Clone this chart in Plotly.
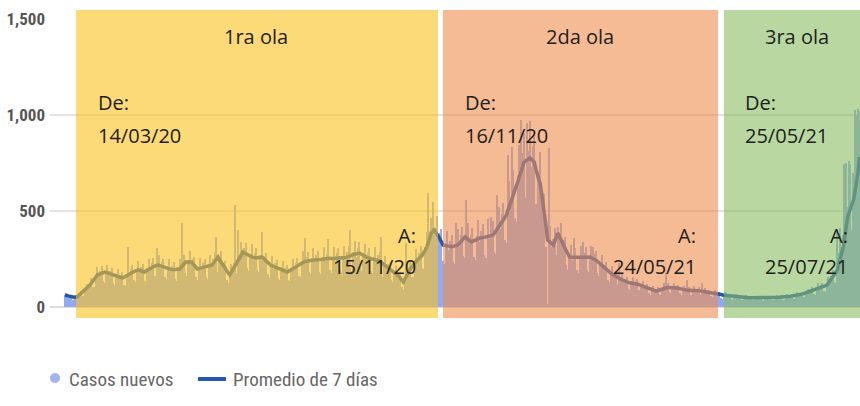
import pandas as pd
import plotly.graph_objects as go

start_date = "2020-03-06"

# Casos nuevos (diarios)
cases = [
    65, 75, 55, 61, 64, 39, 36, 55, 65, 55,
    72, 85, 59, 59, 96, 121, 99, 127, 150, 102,
    102, 165, 209, 162, 190, 211, 134, 127, 189, 221,
    166, 189, 204, 125, 115, 170, 199, 148, 169, 181,
    116, 112, 172, 312, 164, 196, 218, 139, 132, 200,
    241, 181, 207, 222, 137, 131, 202, 248, 193, 229,
    253, 160, 151, 307, 271, 204, 233, 252, 156, 144,
    212, 249, 186, 212, 233, 146, 137, 207, 248, 197,
    437, 270, 176, 164, 246, 293, 222, 248, 259, 155,
    139, 210, 253, 194, 227, 250, 158, 148, 226, 271,
    208, 252, 288, 365, 182, 258, 291, 208, 230, 238,
    141, 124, 175, 225, 184, 228, 531, 176, 401, 273,
    341, 272, 309, 331, 203, 188, 278, 326, 245, 281,
    307, 193, 181, 272, 390, 239, 268, 282, 170, 153,
    227, 268, 200, 229, 247, 152, 140, 206, 241, 180,
    205, 218, 140, 133, 205, 249, 193, 229, 256, 164,
    157, 240, 293, 359, 262, 288, 181, 170, 257, 306,
    233, 270, 294, 184, 173, 260, 313, 239, 278, 354,
    191, 176, 263, 315, 241, 281, 308, 194, 179, 268,
    319, 245, 287, 318, 401, 190, 287, 344, 263, 307,
    337, 208, 190, 281, 330, 246, 281, 305, 189, 176,
    261, 310, 234, 270, 287, 365, 158, 231, 268, 198,
    222, 235, 143, 130, 188, 216, 159, 174, 179, 104,
    91, 153, 333, 168, 207, 240, 158, 156, 246, 301,
    237, 282, 317, 203, 200, 313, 390, 594, 397, 462,
    547, 281, 410, 475, 348, 387, 404, 242, 225, 335,
    395, 298, 343, 377, 237, 223, 437, 404, 314, 374,
    418, 268, 256, 557, 440, 329, 373, 410, 260, 244,
    370, 453, 341, 396, 433, 272, 255, 150, 460, 352,
    469, 450, 289, 277, 583, 521, 406, 484, 544, 350,
    335, 792, 658, 523, 833, 713, 461, 445, 689, 846,
    974, 802, 906, 570, 958, 810, 970, 731, 838, 906,
    539, 477, 697, 808, 564, 596, 588, 315, 15, 828,
    420, 314, 355, 413, 273, 417, 386, 438, 316, 350,
    365, 217, 193, 273, 324, 246, 359, 308, 192, 179,
    268, 320, 339, 283, 310, 194, 181, 273, 320, 312,
    274, 294, 179, 161, 234, 269, 198, 220, 232, 141,
    128, 186, 215, 158, 177, 187, 114, 229, 151, 175,
    129, 145, 154, 95, 88, 131, 155, 117, 133, 144,
    88, 80, 117, 135, 100, 112, 119, 72, 65, 95,
    109, 81, 91, 103, 67, 64, 100, 123, 96, 177,
    124, 77, 71, 106, 125, 95, 109, 116, 71, 65,
    96, 111, 83, 140, 103, 65, 61, 91, 110, 84,
    96, 102, 63, 125, 85, 99, 74, 85, 90, 56,
    50, 75, 86, 65, 74, 79, 49, 44, 65, 76,
    57, 65, 70, 43, 39, 58, 68, 50, 57, 61,
    38, 34, 51, 60, 46, 53, 58, 36, 34, 49,
    59, 45, 52, 56, 35, 33, 49, 59, 46, 53,
    59, 37, 35, 53, 63, 48, 56, 62, 39, 37,
    57, 69, 53, 62, 68, 44, 41, 63, 76, 59,
    72, 80, 53, 50, 79, 96, 76, 91, 103, 67,
    64, 100, 123, 95, 113, 127, 82, 78, 120, 156,
    129, 163, 191, 128, 127, 400, 279, 410, 310, 374,
    745, 750, 520, 760, 740, 400, 700, 1025, 1000, 1030, 1020,
]

# Promedio de 7 días
avg7 = [
    62, 60, 58, 55, 53, 52, 51, 52, 52, 58,
    65, 71, 78, 84, 91, 97, 104, 115, 125, 136,
    146, 157, 167, 170, 173, 176, 179, 182, 180, 177,
    175, 172, 170, 167, 164, 162, 159, 156, 154, 151,
    155, 160, 164, 169, 173, 178, 182, 185, 188, 190,
    193, 190, 188, 185, 182, 187, 192, 198, 203, 208,
    211, 213, 216, 219, 217, 215, 212, 210, 208, 205,
    202, 199, 196, 193, 194, 195, 196, 197, 198, 207,
    216, 225, 234, 234, 234, 234, 234, 225, 216, 207,
    198, 200, 202, 204, 206, 208, 210, 212, 215, 217,
    219, 229, 240, 250, 260, 246, 233, 219, 209, 198,
    188, 177, 167, 180, 194, 207, 221, 234, 247, 260,
    273, 286, 281, 276, 271, 268, 265, 261, 258, 255,
    256, 257, 258, 259, 260, 252, 244, 235, 227, 219,
    216, 214, 211, 208, 206, 203, 200, 196, 193, 189,
    186, 182, 186, 190, 195, 199, 203, 208, 213, 218,
    224, 229, 234, 236, 238, 240, 241, 243, 245, 245,
    245, 245, 245, 245, 247, 248, 250, 252, 253, 255,
    254, 252, 250, 252, 254, 255, 257, 258, 256, 255,
    255, 258, 261, 265, 268, 271, 273, 275, 277, 279,
    281, 277, 272, 268, 264, 259, 255, 254, 252, 251,
    249, 248, 246, 245, 239, 233, 226, 220, 214, 208,
    202, 196, 190, 185, 179, 173, 167, 158, 149, 139,
    130, 146, 161, 177, 188, 200, 211, 223, 234, 241,
    249, 256, 264, 271, 285, 298, 312, 336, 361, 385,
    393, 401, 390, 380, 366, 352, 337, 323, 321, 319,
    316, 314, 312, 314, 316, 319, 321, 323, 331, 340,
    348, 357, 365, 359, 352, 346, 339, 342, 346, 349,
    352, 356, 359, 360, 361, 362, 364, 365, 368, 370,
    373, 375, 385, 396, 406, 417, 427, 440, 453, 466,
    479, 503, 526, 550, 573, 594, 615, 635, 656, 677,
    703, 729, 755, 760, 766, 771, 776, 769, 762, 755,
    719, 682, 664, 646, 594, 542, 490, 420, 349, 343,
    336, 330, 323, 344, 364, 385, 368, 350, 333, 318,
    304, 289, 275, 260, 259, 259, 258, 257, 256, 256,
    255, 256, 257, 257, 258, 259, 259, 260, 256, 253,
    249, 245, 238, 230, 223, 215, 208, 200, 193, 188,
    183, 177, 172, 166, 161, 156, 152, 148, 144, 140,
    136, 132, 128, 127, 126, 125, 124, 123, 121, 120,
    117, 114, 111, 108, 105, 102, 99, 96, 93, 90,
    87, 85, 83, 86, 89, 92, 95, 98, 101, 104,
    103, 102, 102, 101, 100, 100, 99, 97, 95, 93,
    91, 89, 87, 86, 86, 87, 87, 87, 88, 88,
    87, 85, 84, 82, 81, 79, 78, 77, 75, 74,
    72, 71, 69, 68, 67, 66, 65, 63, 62, 61,
    60, 59, 58, 57, 56, 55, 54, 53, 52, 51,
    50, 49, 49, 48, 48, 48, 48, 48, 48, 47,
    47, 47, 47, 47, 47, 47, 47, 47, 48, 48,
    49, 49, 50, 50, 50, 51, 51, 52, 52, 53,
    54, 55, 56, 56, 57, 58, 59, 60, 61, 62,
    65, 67, 70, 72, 75, 77, 80, 83, 86, 89,
    92, 95, 98, 100, 103, 106, 109, 111, 114, 125,
    136, 148, 159, 170, 182, 193, 223, 253, 282, 312,
    364, 417, 469, 491, 513, 535, 557, 604, 651, 698, 781,
]

y_tick_vals = [0, 500, 1000, 1500]
y_tick_text = ["0", "500", "1,000", "1,500"]

waves = ["1ra ola", "2da ola", "3ra ola"]
wave_from = ["14/03/20", "16/11/20", "25/05/21"]
wave_to = ["15/11/20", "24/05/21", "25/07/21"]

legend_labels = ["Casos nuevos", "Promedio de 7 días"]

dates = pd.date_range(start=start_date, periods=len(cases), freq="D")

BAR_COLOR = "#91aaf2"
LINE_COLOR = "#2358b0"

fig = go.Figure()
fig.add_trace(go.Bar(x=dates, y=cases, marker=dict(color=BAR_COLOR, line=dict(width=0)),
                     name=legend_labels[0], showlegend=False))
fig.add_trace(go.Scatter(x=dates, y=avg7, mode="lines", line=dict(color=LINE_COLOR, width=3.5),
                         name=legend_labels[1], showlegend=False))

# plot area geometry in pixels (for paper coordinate conversion)
L, R, T, B = 50, 0, 19, 99
W, H = 860, 406
pw, ph = W - L - R, H - T - B


def px(xp):
    return (xp - L) / pw


def py(yp):
    return (H - B - yp) / ph


# wave overlay boxes
boxes = [
    (76, 438, "rgba(252,193,30,0.6)"),
    (443, 718, "rgba(238,142,77,0.6)"),
    (724, 875, "rgba(138,188,97,0.6)"),
]
shapes = []
for x0, x1, col in boxes:
    shapes.append(dict(type="rect", xref="paper", yref="paper", x0=px(x0), x1=px(x1),
                       y0=py(318), y1=py(10), fillcolor=col, line=dict(width=0), layer="above"))

# manual legend
shapes.append(dict(type="circle", xref="paper", yref="paper", x0=px(50), x1=px(60),
                   y0=py(383), y1=py(373), fillcolor="#a3b4f2", line=dict(width=0)))
shapes.append(dict(type="line", xref="paper", yref="paper", x0=px(198), x1=px(226),
                   y0=py(379), y1=py(379), line=dict(color=LINE_COLOR, width=4)))

TXT = dict(family="Open Sans, Noto Sans, sans-serif", size=20, color="#1e1e1e")
annotations = []
title_x = [256, 580, 797]
from_x = [96, 463, 743]
to_x = [418, 698, 850]
for k in range(3):
    annotations.append(dict(text=waves[k], x=px(title_x[k]), y=py(36), xanchor="center"))
    annotations.append(dict(text="De:", x=px(from_x[k]), y=py(103), xanchor="left"))
    annotations.append(dict(text=wave_from[k], x=px(from_x[k]), y=py(135), xanchor="left"))
    annotations.append(dict(text="A:", x=px(to_x[k]), y=py(235), xanchor="right"))
    annotations.append(dict(text=wave_to[k], x=px(to_x[k]), y=py(266), xanchor="right"))
for a in annotations:
    a.update(xref="paper", yref="paper", yanchor="middle", showarrow=False, font=TXT)

LEG = dict(family="Liberation Sans Narrow, Roboto Condensed, Arial Narrow, sans-serif", size=19, color="#666666")
annotations.append(dict(text=legend_labels[0], x=px(67), y=py(379), xref="paper", yref="paper",
                        xanchor="left", yanchor="middle", showarrow=False, font=LEG))
annotations.append(dict(text=legend_labels[1], x=px(231), y=py(379), xref="paper", yref="paper",
                        xanchor="left", yanchor="middle", showarrow=False, font=LEG))

x_start = pd.Timestamp(start_date) - pd.Timedelta(hours=10.2 * 24)
x_end = pd.Timestamp(start_date) + pd.Timedelta(hours=540.4 * 24)

fig.update_layout(
    width=W, height=H,
    margin=dict(l=L, r=R, t=T, b=B, pad=0),
    paper_bgcolor="white", plot_bgcolor="white",
    bargap=0,
    shapes=shapes,
    annotations=annotations,
    showlegend=False,
    xaxis=dict(range=[x_start, x_end], showgrid=False, showticklabels=False, zeroline=False,
               showline=False, ticks=""),
    yaxis=dict(range=[0, 1500], tickvals=y_tick_vals, ticktext=y_tick_text, showgrid=True,
               gridcolor="#e3e3e3", gridwidth=1.5, zeroline=True, zerolinecolor="#dcdcdc",
               zerolinewidth=1.5, showline=False, ticks="", ticklabelstandoff=4,
               tickfont=dict(family="Liberation Sans Narrow, Roboto Condensed, Arial Narrow, sans-serif",
                             size=17, color="#555555", weight="bold")),
)

fig.write_html("out.html", config={"displayModeBar": False},
               post_script="document.body.style.margin='0';document.body.style.overflow='hidden';")
